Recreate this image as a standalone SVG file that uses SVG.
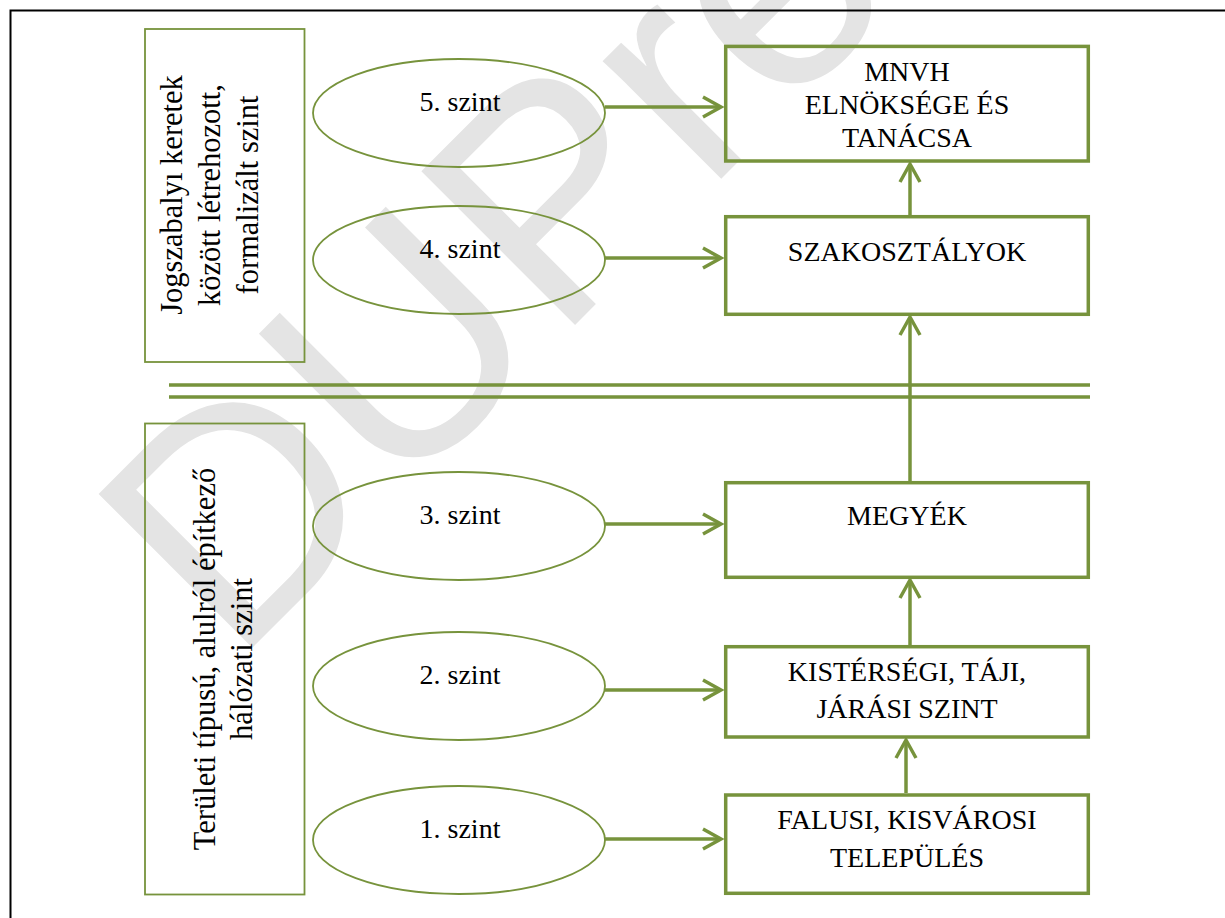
<svg xmlns="http://www.w3.org/2000/svg" width="1225" height="918" viewBox="0 0 1225 918">
<style>
.t{font-family:"Liberation Serif","Times New Roman",serif;fill:#000;text-anchor:middle}
.r{font-size:28px}
.l{font-size:30.5px}
.thin{fill:none;stroke:#77933C;stroke-width:1.8}
.thick{fill:none;stroke:#77933C;stroke-width:3.5}
.wm{font-family:"Liberation Sans",Arial,sans-serif;font-size:316px;fill:#e4e4e4}
</style>
<defs>
<marker id="ah" markerUnits="userSpaceOnUse" markerWidth="26" markerHeight="26" viewBox="0 0 26 26" refX="21" refY="13" orient="auto">
<path d="M3,3 L21,13 L3,23" fill="none" stroke="#77933C" stroke-width="3.5"/>
</marker>
</defs>
<rect width="1225" height="918" fill="#fff"/>
<text class="wm" transform="translate(234,666) rotate(-45)">DUPress</text>
<g id="frame"><path d="M10.5,918 V10.5 H1225" fill="none" stroke="#000" stroke-width="2"/></g>
<g id="box-jog">
<rect class="thin" x="145" y="29" width="159.5" height="333"/>
<g transform="translate(0,195) rotate(-90)">
<text class="t l" x="0" y="182">Jogszabalyı keretek</text>
<text class="t l" x="0" y="220">között létrehozott,</text>
<text class="t l" x="0" y="258">formalizált szint</text>
</g>
</g>
<g id="box-ter">
<rect class="thin" x="145" y="423.5" width="159.5" height="471"/>
<g transform="translate(0,659) rotate(-90)">
<text class="t l" x="0" y="215">Területi típusú, alulról építkező</text>
<text class="t l" x="0" y="252">hálózati szint</text>
</g>
</g>
<g id="sep"><path class="thick" d="M169,385 H1090 M169,397 H1090"/></g>
<g id="e5"><ellipse class="thin" cx="459" cy="113" rx="146" ry="54"/><text class="t r" x="460" y="111">5. szint</text></g>
<g id="e4"><ellipse class="thin" cx="459" cy="260" rx="146" ry="54"/><text class="t r" x="460" y="258">4. szint</text></g>
<g id="e3"><ellipse class="thin" cx="459" cy="526" rx="146" ry="54"/><text class="t r" x="460" y="524">3. szint</text></g>
<g id="e2"><ellipse class="thin" cx="459" cy="686" rx="146" ry="54"/><text class="t r" x="460" y="684">2. szint</text></g>
<g id="e1"><ellipse class="thin" cx="459" cy="840" rx="146" ry="54"/><text class="t r" x="460" y="838">1. szint</text></g>
<g id="b-mnvh"><rect class="thick" x="725.7" y="46.4" width="362.6" height="114.6"/>
<text class="t r" x="907" y="81">MNVH</text><text class="t r" x="907" y="114">ELNÖKSÉGE ÉS</text><text class="t r" x="907" y="147">TANÁCSA</text></g>
<g id="b-szak"><rect class="thick" x="725.7" y="216.7" width="362.6" height="97.6"/>
<text class="t r" x="907" y="261">SZAKOSZTÁLYOK</text></g>
<g id="b-megy"><rect class="thick" x="725.7" y="482.7" width="362.6" height="94.6"/>
<text class="t r" x="907" y="525">MEGYÉK</text></g>
<g id="b-kist"><rect class="thick" x="725.7" y="646.7" width="362.6" height="90.3"/>
<text class="t r" x="907" y="681">KISTÉRSÉGI, TÁJI,</text><text class="t r" x="907" y="718">JÁRÁSI SZINT</text></g>
<g id="b-falu"><rect class="thick" x="725.7" y="795" width="362.6" height="98.3"/>
<text class="t r" x="907" y="829">FALUSI, KISVÁROSI</text><text class="t r" x="907" y="867">TELEPÜLÉS</text></g>
<g id="connectors">
<path class="thick" marker-end="url(#ah)" d="M605,107 H721"/>
<path class="thick" marker-end="url(#ah)" d="M605,258 H721"/>
<path class="thick" marker-end="url(#ah)" d="M605,524 H721"/>
<path class="thick" marker-end="url(#ah)" d="M605,690 H721"/>
<path class="thick" marker-end="url(#ah)" d="M605,839 H721"/>
<path class="thick" marker-end="url(#ah)" d="M910,215 V164"/>
<path class="thick" marker-end="url(#ah)" d="M910,481 V317"/>
<path class="thick" marker-end="url(#ah)" d="M910,645 V580"/>
<path class="thick" marker-end="url(#ah)" d="M906,793 V740"/>
</g>
</svg>
